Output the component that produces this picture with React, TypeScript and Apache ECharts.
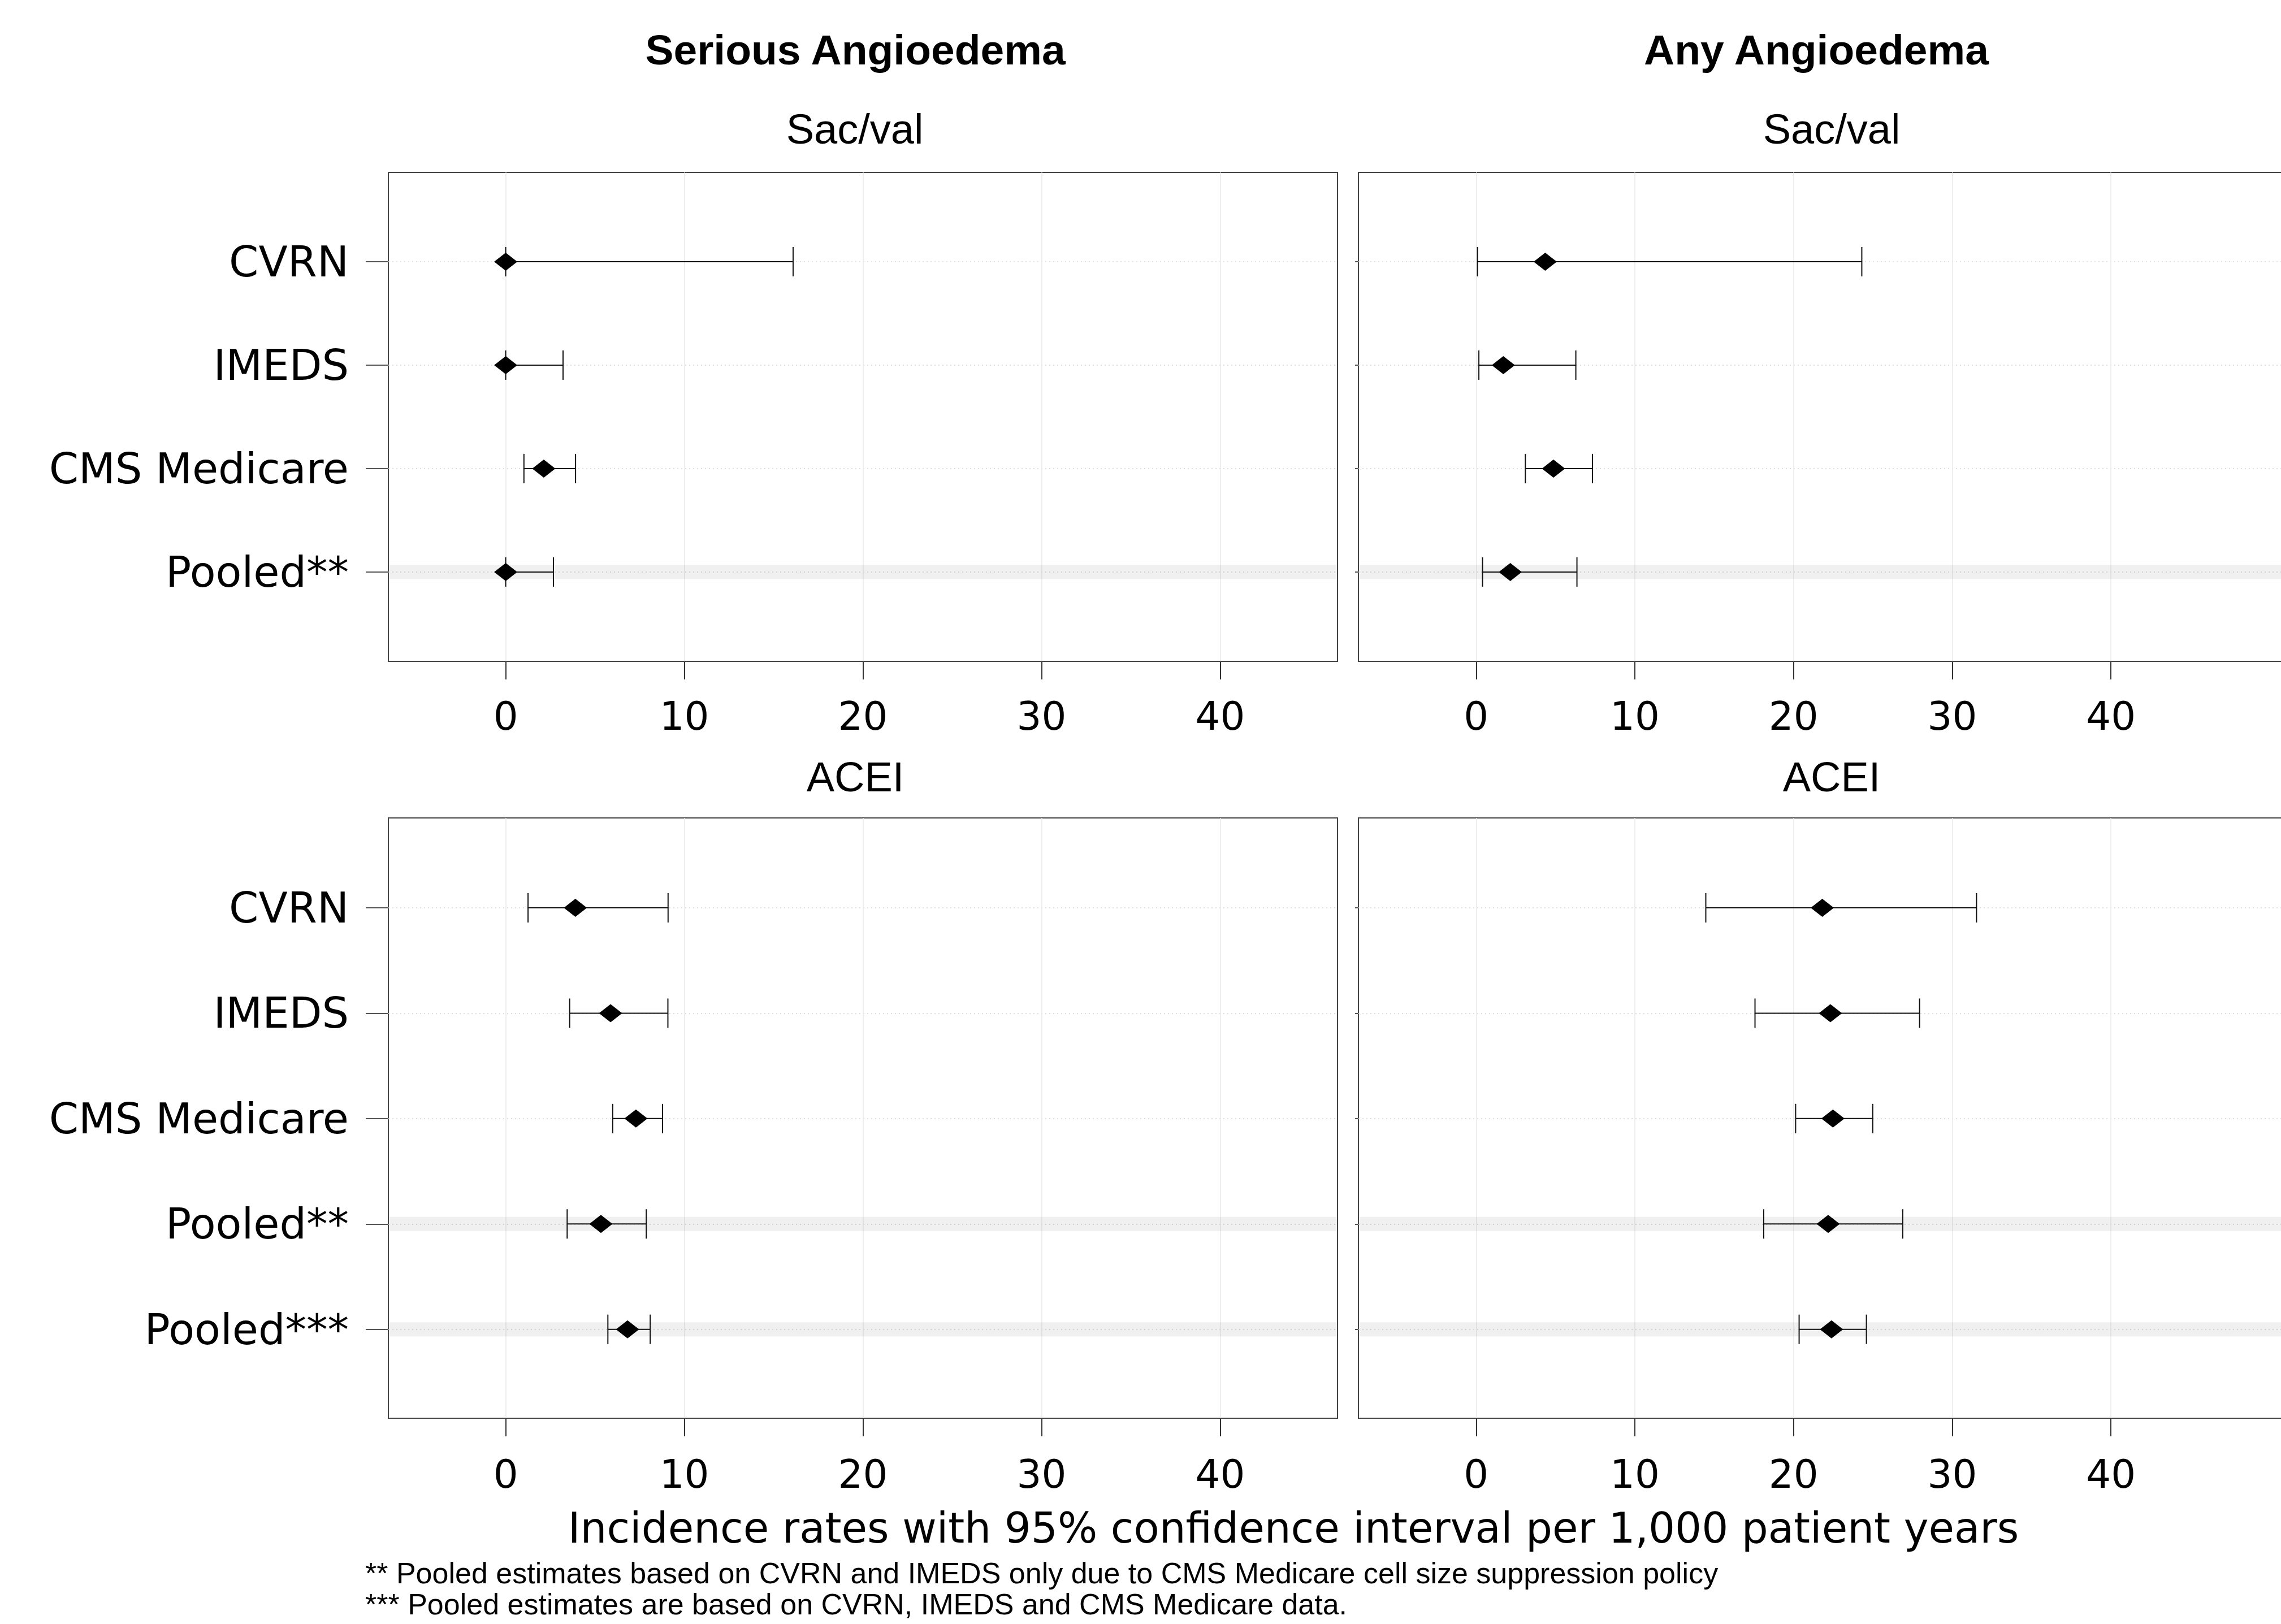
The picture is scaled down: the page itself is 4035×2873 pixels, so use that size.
import React, { useEffect, useRef } from "react";
import * as echarts from "echarts";

// ---------------- data ----------------
const sacCategories = ["CVRN", "IMEDS", "CMS Medicare", "Pooled**"];
const aceiCategories = ["CVRN", "IMEDS", "CMS Medicare", "Pooled**", "Pooled***"];
const sacPooledRows = [4];
const aceiPooledRows = [4, 5];
const xTickValues = [0, 10, 20, 30, 40];

const seriousSacEst = [0, 0, 2.13, 0];
const seriousSacLow = [0, 0, 1.02, 0];
const seriousSacHigh = [16.09, 3.21, 3.91, 2.67];

const anySacEst = [4.35, 1.71, 4.87, 2.15];
const anySacLow = [0.08, 0.17, 3.1, 0.4];
const anySacHigh = [24.3, 6.28, 7.33, 6.35];

const seriousAceiEst = [3.9, 5.87, 7.29, 5.33, 6.82];
const seriousAceiLow = [1.25, 3.58, 5.99, 3.44, 5.72];
const seriousAceiHigh = [9.09, 9.08, 8.78, 7.87, 8.09];

const anyAceiEst = [21.81, 22.32, 22.48, 22.18, 22.39];
const anyAceiLow = [14.47, 17.57, 20.13, 18.12, 20.35];
const anyAceiHigh = [31.53, 27.94, 24.99, 26.88, 24.59];

const columnTitles = ["Serious Angioedema", "Any Angioedema"];
const panelTitles = ["Sac/val", "ACEI"];
const xAxisTitle = "Incidence rates with 95% confidence interval per 1,000 patient years";
const footnotes = [
  "** Pooled estimates based on CVRN and IMEDS only due to CMS Medicare cell size suppression policy",
  "*** Pooled estimates are based on CVRN, IMEDS and CMS Medicare data.",
];

// ---------------- layout ----------------
const LABEL_FONT = "DejaVu Sans";
const TITLE_FONT = "Liberation Sans";

const panels = [
  {
    grid: { left: 687, top: 305, width: 1679, height: 865 },
    xMin: -6.57, xMax: 46.57, yMin: 0.137, yMax: 4.864,
    cats: sacCategories, est: seriousSacEst, low: seriousSacLow, high: seriousSacHigh,
    pooled: sacPooledRows, left: true,
  },
  {
    grid: { left: 2403, top: 305, width: 1679, height: 865 },
    xMin: -7.42, xMax: 52.39, yMin: 0.137, yMax: 4.864,
    cats: sacCategories, est: anySacEst, low: anySacLow, high: anySacHigh,
    pooled: sacPooledRows, left: false,
  },
  {
    grid: { left: 687, top: 1447, width: 1679, height: 1062 },
    xMin: -6.57, xMax: 46.57, yMin: 0.147, yMax: 5.844,
    cats: aceiCategories, est: seriousAceiEst, low: seriousAceiLow, high: seriousAceiHigh,
    pooled: aceiPooledRows, left: true,
  },
  {
    grid: { left: 2403, top: 1447, width: 1679, height: 1062 },
    xMin: -7.42, xMax: 52.39, yMin: 0.147, yMax: 5.844,
    cats: aceiCategories, est: anyAceiEst, low: anyAceiLow, high: anyAceiHigh,
    pooled: aceiPooledRows, left: false,
  },
];

function buildOption() {
  const grid: any[] = [];
  const xAxis: any[] = [];
  const yAxis: any[] = [];
  const series: any[] = [];

  panels.forEach((p, i) => {
    grid.push({
      ...p.grid,
      show: true,
      borderColor: "#444",
      borderWidth: 2,
      backgroundColor: "#fff",
      containLabel: false,
      outerBoundsMode: "none",
    });
    const rows = p.cats.map((_, k) => k + 1);
    xAxis.push({
      type: "value",
      gridIndex: i,
      position: "bottom",
      min: p.xMin,
      max: p.xMax,
      axisLine: { show: false, onZero: false },
      axisTick: {
        show: true,
        length: 32,
        customValues: xTickValues,
        lineStyle: { color: "#333", width: 2 },
      },
      axisLabel: {
        show: true,
        customValues: xTickValues,
        margin: i < 2 ? 62 : 64,
        fontFamily: LABEL_FONT,
        fontSize: 69,
        color: "#000",
      },
      splitLine: { show: true, lineStyle: { color: "#e8e8e8", width: 1.5 } },
    });
    yAxis.push({
      type: "value",
      gridIndex: i,
      position: "left",
      inverse: true,
      min: p.yMin,
      max: p.yMax,
      axisLine: { show: false, onZero: false },
      axisTick: {
        show: true,
        length: p.left ? 40 : 6,
        customValues: rows,
        lineStyle: { color: "#555", width: 2 },
      },
      axisLabel: {
        show: p.left,
        customValues: rows,
        margin: 70,
        fontFamily: LABEL_FONT,
        fontSize: 75,
        color: "#000",
        formatter: (v: number) => p.cats[Math.round(v) - 1] ?? "",
      },
      splitLine: {
        show: true,
        lineStyle: { color: "#d4d4d4", width: 1.5, type: [2, 5] },
      },
    });

    // pooled bands
    series.push({
      type: "custom",
      xAxisIndex: i,
      yAxisIndex: i,
      z: 1,
      silent: true,
      data: p.pooled.map((r) => [0, r]),
      renderItem: (params: any, api: any) => {
        const c = api.coord([0, api.value(1)]);
        const cs = params.coordSys;
        return {
          type: "rect",
          shape: { x: cs.x, y: c[1] - 12.5, width: cs.width, height: 25 },
          style: { fill: "rgba(0,0,0,0.06)" },
        };
      },
    });

    // error bars
    series.push({
      type: "custom",
      xAxisIndex: i,
      yAxisIndex: i,
      z: 2,
      silent: true,
      encode: { x: [0, 1], y: 2 },
      data: p.cats.map((_, k) => [p.low[k], p.high[k], k + 1]),
      renderItem: (params: any, api: any) => {
        const lo = api.coord([api.value(0), api.value(2)]);
        const hi = api.coord([api.value(1), api.value(2)]);
        const h = 26;
        const st = { stroke: "#111", lineWidth: 2 };
        return {
          type: "group",
          children: [
            { type: "line", shape: { x1: lo[0], y1: lo[1], x2: hi[0], y2: hi[1] }, style: st },
            { type: "line", shape: { x1: lo[0], y1: lo[1] - h, x2: lo[0], y2: lo[1] + h }, style: st },
            { type: "line", shape: { x1: hi[0], y1: hi[1] - h, x2: hi[0], y2: hi[1] + h }, style: st },
          ],
        };
      },
    });

    // point estimates
    series.push({
      type: "scatter",
      xAxisIndex: i,
      yAxisIndex: i,
      z: 3,
      symbol: "diamond",
      symbolSize: [41, 32],
      itemStyle: { color: "#000", opacity: 1 },
      data: p.est.map((v, k) => [v, k + 1]),
    });
  });

  const textEl = (text: string, x: number, y: number, font: string, size: number, weight: string, align = "center") => ({
    type: "text",
    x,
    y,
    silent: true,
    style: {
      text,
      fontFamily: font,
      fontSize: size,
      fontWeight: weight,
      fill: "#000",
      align,
      verticalAlign: "middle",
    },
  });

  const graphic = [
    textEl(columnTitles[0], 1513, 88, TITLE_FONT, 75, "bold"),
    textEl(columnTitles[1], 3213, 88, TITLE_FONT, 75, "bold"),
    textEl(panelTitles[0], 1512, 228, TITLE_FONT, 74, "normal"),
    textEl(panelTitles[0], 3240, 228, TITLE_FONT, 74, "normal"),
    textEl(panelTitles[1], 1513, 1374, TITLE_FONT, 74, "normal"),
    textEl(panelTitles[1], 3240, 1374, TITLE_FONT, 74, "normal"),
    textEl(xAxisTitle, 2288, 2703, LABEL_FONT, 74, "normal"),
    textEl(footnotes[0], 646, 2783, TITLE_FONT, 52, "normal", "left"),
    textEl(footnotes[1], 646, 2838, TITLE_FONT, 52, "normal", "left"),
  ];

  return {
    animation: false,
    backgroundColor: "#fff",
    grid,
    xAxis,
    yAxis,
    series,
    graphic,
  };
}

export default function App() {
  const ref = useRef<HTMLDivElement>(null);
  useEffect(() => {
    if (!ref.current) return;
    const chart = echarts.init(ref.current, undefined, { renderer: "svg" });
    chart.setOption(buildOption() as any);
    return () => chart.dispose();
  }, []);
  return (
    <div
      ref={ref}
      style={{ position: "fixed", left: 0, top: 0, width: 4035, height: 2873, background: "#fff" }}
    />
  );
}
